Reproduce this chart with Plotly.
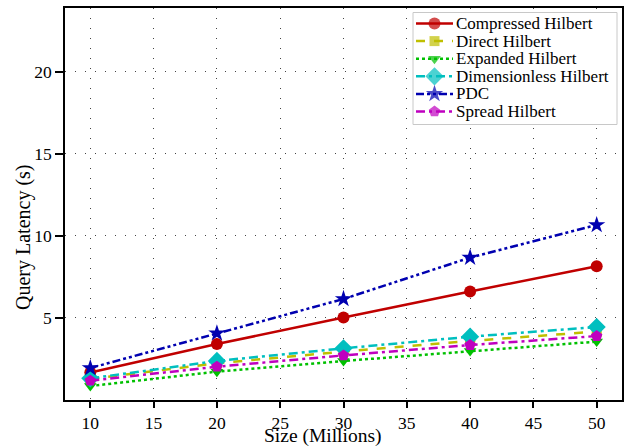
import plotly.graph_objects as go

sizes = [10, 20, 30, 40, 50]
compressed = [1.68, 3.41, 5.03, 6.62, 8.15]
direct = [1.28, 2.24, 2.95, 3.60, 4.17]
expanded = [0.85, 1.73, 2.38, 2.99, 3.56]
dimensionless = [1.32, 2.38, 3.15, 3.86, 4.45]
pdc = [1.95, 4.07, 6.16, 8.68, 10.67]
spread = [1.18, 2.03, 2.72, 3.35, 3.90]
x_ticks = [10, 15, 20, 25, 30, 35, 40, 45, 50]
y_ticks = [5, 10, 15, 20]

series = [
    ("Compressed Hilbert", compressed, "#c00000", "solid", "circle", 12),
    ("Direct Hilbert", direct, "#bfbf00", "dash", "square", 10),
    ("Expanded Hilbert", expanded, "#00c000", "dot", "triangle-down", 11),
    ("Dimensionless Hilbert", dimensionless, "#00bfbf", "9px,4px,3px,4px", "diamond", 14),
    ("PDC", pdc, "#0000b0", "8px,3px,3px,3px,3px,3px", "star", 13),
    ("Spread Hilbert", spread, "#bf00bf", "9px,4px,3px,4px", "pentagon", 12),
]

FF = "Liberation Serif"
PL, PR, PT, PB = 65, 622, 8, 400  # plot area in page pixels


def px2paper(px, py):
    return (px - PL) / (PR - PL), (PB - py) / (PB - PT)


fig = go.Figure()
for name, ys, color, dash, sym, ms in series:
    fig.add_trace(go.Scatter(
        x=sizes, y=ys, name=name, mode="lines+markers", showlegend=False,
        line=dict(color=color, width=2.5, dash=dash),
        marker=dict(symbol=sym, size=ms, color=color, line=dict(width=0)),
    ))

# Manual legend on a pixel-coordinate overlay axis (page pixels)
leg_left, leg_right, leg_top, leg_bot = 413, 617, 12.5, 124.5
row0, row_gap = 23.5, 17.6
s_x0, s_x1, txt_x = 416, 453, 454
fig.add_trace(go.Scatter(
    x=[leg_left, leg_right, leg_right, leg_left, leg_left],
    y=[leg_top, leg_top, leg_bot, leg_bot, leg_top],
    xaxis="x2", yaxis="y2", mode="lines", fill="toself", fillcolor="white",
    line=dict(color="#c8c8c8", width=1), showlegend=False, hoverinfo="skip",
))
for i, (name, ys, color, dash, sym, ms) in enumerate(series):
    yy = row0 + i * row_gap
    fig.add_trace(go.Scatter(
        x=[s_x0, (s_x0 + s_x1) / 2, s_x1], y=[yy, yy, yy], xaxis="x2", yaxis="y2",
        mode="lines+markers", showlegend=False, hoverinfo="skip",
        line=dict(color=color, width=2.5, dash=dash),
        marker=dict(symbol=sym, size=[0, ms, 0], color=color, line=dict(width=0)),
    ))
    fig.add_annotation(
        x=txt_x, y=yy, xref="x2", yref="y2", text=name, showarrow=False,
        xanchor="left", yanchor="middle", font=dict(family=FF, size=17, color="black"),
    )

# Axis titles placed like the reference
tx, ty = px2paper(323, 436)
fig.add_annotation(x=tx, y=ty, xref="paper", yref="paper", text="Size (Millions)", showarrow=False,
                   xanchor="center", yanchor="middle", font=dict(family=FF, size=19.5, color="black"))
tx, ty = px2paper(24, 237)
fig.add_annotation(x=tx, y=ty, xref="paper", yref="paper", text="Query Latency (s)", showarrow=False,
                   textangle=-90, xanchor="center", yanchor="middle",
                   font=dict(family=FF, size=20, color="black"))

fig.update_layout(
    width=625, height=446,
    margin=dict(l=PL, r=625 - PR, t=PT, b=446 - PB),
    paper_bgcolor="white", plot_bgcolor="white",
    font=dict(family=FF, size=17, color="black"),
    showlegend=False,
    xaxis=dict(
        range=[8, 52], tickvals=x_ticks,
        showgrid=True, gridcolor="#444444", griddash="1px,9px", gridwidth=1,
        showline=True, linecolor="black", linewidth=1.5, mirror=True,
        ticks="outside", ticklen=6, tickwidth=2, tickcolor="black",
        tickfont=dict(family=FF, size=17.5),
        zeroline=False, automargin=False,
    ),
    yaxis=dict(
        range=[0, 23.9], tickvals=y_ticks,
        showgrid=True, gridcolor="#444444", griddash="1px,9px", gridwidth=1,
        showline=True, linecolor="black", linewidth=1.5, mirror=True,
        ticks="outside", ticklen=8, tickwidth=2, tickcolor="black",
        tickfont=dict(family=FF, size=17.5),
        zeroline=False, automargin=False,
    ),
    xaxis2=dict(overlaying="x", range=[PL, PR], visible=False, fixedrange=True),
    yaxis2=dict(overlaying="y", range=[PB, PT], visible=False, fixedrange=True),
)

fig.write_html("out.html", config={"displayModeBar": False},
               post_script="document.body.style.margin='0';document.body.style.overflow='hidden';")
